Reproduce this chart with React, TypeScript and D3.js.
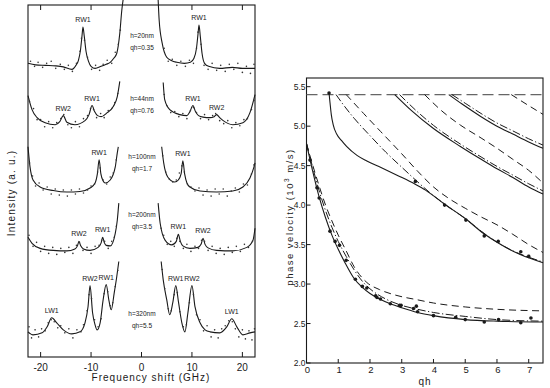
import * as d3 from "d3"

type Pt = [number, number]

// ---- left panel: Brillouin spectra ----
const freqTicks = [-20, -10, 0, 10, 20]
const thickness = ["h=20nm", "h=44nm", "h=100nm", "h=200nm", "h=320nm"]
const qhLabels = ["qh=0.35", "qh=0.76", "qh=1.7", "qh=3.5", "qh=5.5"]
const baselines = [28.9, 23.1, 16.4, 10.6, 2.2]

const fitL20: Pt[] = [[-22.5, 0.3], [-21, 0.15], [-19, 0.1], [-17, 0.05], [-15.5, -0.05], [-13.8, -0.3], [-13, 0.1], [-12.5, 0.6], [-12.1, 1.6], [-11.8, 3.0], [-11.6, 3.9], [-11.35, 3.0], [-11.0, 1.5], [-10.5, 0.5], [-10, 0.0], [-9.2, -0.2], [-8, 0.0], [-7, 0.2], [-6.2, 0.4], [-5.5, 0.8], [-4.9, 1.3], [-4.3, 3.3], [-3.9, 5.6], [-3.65, 6.6]]
const fitR20: Pt[] = [[3.3, 6.6], [3.5, 4.6], [4.1, 2.3], [5.0, 0.9], [6.0, 0.55], [7.0, 0.4], [8.5, 0.3], [9.7, 0.4], [10.4, 0.8], [10.9, 1.8], [11.2, 3.2], [11.4, 4.1], [11.65, 3.0], [12.0, 1.3], [12.5, 0.3], [13.3, 0.0], [15.5, -0.2], [18, -0.1], [20, -0.2], [22.5, -0.2]]
const fitL44: Pt[] = [[-22.5, 2.9], [-21.7, 1.5], [-20.7, 0.7], [-19.1, 0.2], [-17.1, 0.0], [-16.2, 0.3], [-15.5, 0.9], [-14.8, 0.25], [-13.2, 0.0], [-11.2, 0.4], [-10.4, 1.0], [-9.8, 1.9], [-9.3, 1.3], [-8.7, 0.9], [-8.0, 0.8], [-6.8, 1.2], [-5.6, 1.8], [-4.8, 2.8], [-4.3, 4.3]]
const fitR44: Pt[] = [[4.3, 4.2], [4.6, 2.5], [5.6, 1.5], [7.6, 1.0], [9.0, 0.9], [9.6, 1.3], [10.2, 1.9], [10.7, 1.3], [11.3, 0.9], [12.2, 0.75], [13.6, 0.7], [14.4, 0.8], [14.9, 1.0], [15.5, 0.7], [16.2, 0.4], [18.1, 0.0], [20.1, 0.2], [21.5, 1.2], [22.5, 3.0]]
const fitL100: Pt[] = [[-22.5, 4.5], [-22.1, 2.5], [-21.5, 1.2], [-20.1, 0.5], [-17.5, 0.15], [-14.8, 0.0], [-12.2, 0.05], [-10.2, 0.4], [-9.2, 0.9], [-8.75, 1.8], [-8.4, 3.2], [-8.05, 1.8], [-7.6, 1.1], [-7.2, 0.9], [-6.2, 1.2], [-5.2, 2.5], [-4.8, 3.9], [-4.6, 4.5]]
const fitR100: Pt[] = [[4.0, 4.5], [4.4, 2.9], [5.2, 1.5], [6.6, 1.0], [7.3, 1.2], [7.85, 1.8], [8.2, 3.1], [8.55, 1.8], [9.0, 0.9], [9.6, 0.5], [11.6, 0.1], [14.9, 0.0], [18.1, 0.1], [20.1, 0.5], [21.5, 1.4], [22.3, 2.5], [22.5, 2.9]]
const fitL200: Pt[] = [[-22.5, 1.3], [-21.7, 0.7], [-20.1, 0.2], [-17.5, 0.0], [-14.8, -0.05], [-13.2, 0.15], [-12.7, 0.45], [-12.4, 0.9], [-12.05, 0.45], [-11.5, 0.15], [-10.2, 0.0], [-8.6, 0.3], [-8.0, 0.75], [-7.7, 1.3], [-7.35, 0.75], [-7.0, 0.5], [-6.2, 0.45], [-5.2, 1.7], [-4.8, 3.0], [-4.5, 4.7]]
const fitR200: Pt[] = [[3.3, 4.7], [3.7, 2.7], [4.7, 1.0], [6.0, 0.55], [6.9, 0.9], [7.3, 1.6], [7.7, 0.9], [8.2, 0.45], [9.6, 0.2], [11.2, 0.3], [11.8, 0.6], [12.2, 1.2], [12.6, 0.6], [13.2, 0.25], [14.9, 0.0], [18.1, -0.05], [20.9, 0.3], [22.1, 1.0], [22.5, 2.2]]
const fitL320: Pt[] = [[-22.5, 0.3], [-21.5, 0.0], [-19.7, 0.2], [-18.7, 0.8], [-17.8, 1.7], [-16.8, 1.2], [-15.5, 0.5], [-13.8, 0.1], [-12.2, 0.3], [-11.2, 1.2], [-10.6, 2.8], [-10.2, 4.9], [-9.7, 2.2], [-9.2, 1.0], [-8.8, 0.5], [-8.2, 1.2], [-7.6, 3.5], [-7.0, 5.0], [-6.45, 3.4], [-6.0, 2.5], [-5.4, 4.2], [-4.9, 5.8], [-4.5, 7.3]]
const fitR320: Pt[] = [[3.9, 7.3], [4.3, 5.5], [5.0, 3.5], [5.6, 2.0], [6.2, 3.2], [6.8, 4.9], [7.35, 3.2], [8.0, 1.2], [8.6, 0.3], [9.2, 2.2], [10.0, 4.9], [10.6, 2.8], [11.6, 1.2], [12.6, 0.5], [13.6, 0.3], [15.5, 0.2], [16.9, 0.8], [17.9, 1.6], [18.9, 0.8], [20.1, 0.0], [21.5, 0.2], [22.5, 0.3]]

const dots20: Pt[] = [[-22, 0.5], [-21.2, 0.0], [-20.5, 0.4], [-19.6, -0.1], [-18.8, 0.3], [-17.9, 0.5], [-17, -0.2], [-16.1, 0.2], [-15.3, -0.3], [-14.5, 0.1], [-13.7, -0.5], [-12.9, 0.3], [-12.2, 1.5], [-11.9, 2.8], [-11.3, 2.6], [-10.7, 0.9], [-9.9, -0.3], [-9.1, 0.1], [-8.3, -0.4], [-7.6, 0.2], [-6.8, 0.6], [-5.9, 0.3], [-5.2, 1.4], [-4.6, 2.2], [-4.2, 3.6],
  [4.5, 1.8], [5.3, 0.5], [6.1, 0.7], [7.0, 0.1], [7.8, 0.5], [8.7, 0.0], [9.5, 0.6], [10.3, 0.3], [10.9, 1.8], [11.2, 3.4], [11.8, 2.2], [12.4, 0.1], [13.2, -0.3], [14.0, 0.3], [14.9, -0.4], [15.7, 0.1], [16.6, -0.5], [17.4, 0.2], [18.3, -0.3], [19.1, 0.3], [20.0, -0.6], [20.8, 0.0], [21.6, -0.7], [22.3, 0.2]]
const dots44: Pt[] = [[-22.2, 2.3], [-21.4, 1.6], [-20.7, 0.5], [-20, 0.5], [-19.2, -0.2], [-18.4, 0.3], [-17.6, -0.3], [-16.8, 0.2], [-16, 0.6], [-15.4, 1.0], [-14.6, 0.0], [-13.9, -0.3], [-13.1, 0.3], [-12.3, -0.2], [-11.5, 0.6], [-10.7, 0.9], [-10.1, 1.6], [-9.5, 1.5], [-8.9, 0.7], [-8.1, 1.1], [-7.4, 0.7], [-6.6, 1.4], [-5.9, 1.6], [-5.3, 2.2], [-4.7, 3.1],
  [4.5, 3.0], [5.0, 1.9], [5.8, 1.2], [6.6, 1.3], [7.4, 0.8], [8.2, 1.1], [9.0, 0.6], [9.7, 1.4], [10.3, 1.7], [10.9, 1.2], [11.7, 0.6], [12.5, 1.0], [13.3, 0.5], [14.1, 0.9], [14.7, 1.1], [15.5, 0.4], [16.3, 0.1], [17.1, 0.4], [17.9, -0.3], [18.7, 0.2], [19.5, -0.1], [20.3, 0.5], [21.0, 0.6], [21.8, 1.5], [22.3, 2.4]]
const dots100: Pt[] = [[-22.2, 2.9], [-21.6, 1.6], [-21, 0.6], [-20.3, 0.9], [-19.5, 0.2], [-18.7, 0.5], [-17.9, -0.2], [-17.1, 0.3], [-16.3, -0.3], [-15.5, 0.2], [-14.7, -0.4], [-13.9, 0.2], [-13.1, -0.2], [-12.3, 0.3], [-11.5, -0.1], [-10.7, 0.2], [-10.0, 0.6], [-9.3, 0.8], [-8.7, 2.0], [-8.2, 2.4], [-7.6, 1.2], [-6.9, 0.8], [-6.2, 1.5], [-5.6, 1.9], [-5.0, 3.2],
  [4.2, 3.6], [4.8, 2.0], [5.5, 1.3], [6.2, 1.0], [6.9, 1.2], [7.5, 1.9], [8.0, 2.6], [8.5, 2.0], [9.1, 0.8], [9.8, 0.5], [10.6, 0.1], [11.4, 0.4], [12.2, -0.3], [13.0, 0.2], [13.8, -0.4], [14.6, 0.3], [15.4, -0.2], [16.2, 0.3], [17.0, -0.4], [17.8, 0.1], [18.6, 0.4], [19.4, 0.0], [20.2, 0.8], [21.0, 0.7], [21.8, 1.8], [22.3, 2.7]]
const dots200: Pt[] = [[-22.3, 1.5], [-21.5, 0.4], [-20.8, 0.8], [-20, -0.1], [-19.2, 0.4], [-18.4, -0.3], [-17.6, 0.3], [-16.8, -0.4], [-16, 0.2], [-15.2, -0.2], [-14.4, 0.3], [-13.6, -0.3], [-12.9, 0.5], [-12.3, 0.8], [-11.6, 0.0], [-10.8, 0.3], [-10, -0.3], [-9.2, 0.4], [-8.4, 0.5], [-7.9, 1.0], [-7.3, 0.9], [-6.6, 0.2], [-5.9, 0.9], [-5.4, 1.3], [-5.0, 2.4],
  [3.9, 2.2], [4.4, 1.5], [5.1, 0.6], [5.8, 0.9], [6.5, 0.4], [7.0, 1.2], [7.6, 0.9], [8.3, 0.2], [9.0, 0.6], [9.8, -0.1], [10.6, 0.4], [11.3, 0.2], [11.9, 1.0], [12.5, 0.9], [13.2, 0.0], [14, 0.4], [14.8, -0.3], [15.6, 0.2], [16.4, -0.4], [17.2, 0.3], [18.0, -0.2], [18.8, 0.4], [19.6, -0.1], [20.4, 0.6], [21.2, 0.3], [22.0, 0.9]]
const dots320: Pt[] = [[-22.3, 0.8], [-21.8, -0.3], [-21.1, 0.5], [-20.4, -0.2], [-19.8, 0.6], [-19.1, 0.4], [-18.5, 1.2], [-17.9, 1.5], [-17.3, 1.3], [-16.6, 0.7], [-16, 0.9], [-15.2, 0.2], [-14.4, 0.6], [-13.6, -0.3], [-12.8, 0.5], [-12.0, 0.3], [-11.5, 1.0], [-10.8, 2.4], [-10.4, 4.0], [-9.9, 3.6], [-9.3, 1.5], [-8.6, 0.8], [-8.0, 1.6], [-7.4, 4.1], [-6.7, 4.3], [-6.2, 2.9], [-5.7, 3.2], [-5.2, 4.8], [-4.7, 6.4],
  [4.1, 6.5], [4.6, 4.6], [5.3, 2.6], [5.9, 2.4], [6.5, 4.0], [7.1, 4.2], [7.6, 2.3], [8.3, 0.8], [8.9, 1.0], [9.5, 3.2], [10.3, 4.0], [10.9, 2.0], [11.6, 1.5], [12.3, 0.4], [13.0, 0.9], [13.8, -0.2], [14.5, 0.5], [15.2, -0.3], [15.9, 0.6], [16.6, 0.9], [17.3, 1.4], [18.0, 1.3], [18.6, 0.6], [19.3, -0.2], [20.0, 0.5], [20.6, -0.4], [21.3, 0.4], [21.9, -0.5], [22.4, 0.6]]

const peaks20: [string, number][] = [["RW1", -11.6], ["RW1", 11.4]]
const peaks44: [string, number][] = [["RW2", -15.5], ["RW1", -9.8], ["RW1", 10.2], ["RW2", 14.9]]
const peaks100: [string, number][] = [["RW1", -8.4], ["RW1", 8.2]]
const peaks200: [string, number][] = [["RW2", -12.4], ["RW1", -7.7], ["RW1", 7.3], ["RW2", 12.2]]
const peaks320: [string, number][] = [["LW1", -17.8], ["RW2", -10.2], ["RW1", -7.0], ["RW1", 6.8], ["RW2", 10.0], ["LW1", 17.9]]

const fitsLeft = [fitL20, fitL44, fitL100, fitL200, fitL320]
const fitsRight = [fitR20, fitR44, fitR100, fitR200, fitR320]
const dotSets = [dots20, dots44, dots100, dots200, dots320]
const peakSets = [peaks20, peaks44, peaks100, peaks200, peaks320]

// ---- right panel: dispersion ----
const qhTicks = [0, 1, 2, 3, 4, 5, 6, 7]
const velTicks = [2.0, 2.5, 3.0, 3.5, 4.0, 4.5, 5.0, 5.5]
const cutoff = 5.4

const rw1Solid: Pt[] = [[0, 4.78], [0.2, 4.42], [0.4, 4.1], [0.6, 3.84], [0.8, 3.62], [1.0, 3.44], [1.2, 3.28], [1.5, 3.07], [1.75, 2.96], [2.0, 2.88], [2.3, 2.81], [2.64, 2.75], [3.0, 2.7], [3.5, 2.64], [4.0, 2.6], [5.0, 2.55], [6.0, 2.53], [7.45, 2.52]]
const rw1DashDot: Pt[] = [[0, 4.78], [0.2, 4.47], [0.4, 4.18], [0.6, 3.93], [0.8, 3.72], [1.0, 3.54], [1.25, 3.35], [1.5, 3.18], [1.75, 3.04], [2.0, 2.94], [2.5, 2.81], [3.0, 2.73], [3.5, 2.68], [4.0, 2.64], [5.0, 2.59], [6.0, 2.55], [7.45, 2.53]]
const rw1Dashed: Pt[] = [[0, 4.78], [0.2, 4.5], [0.4, 4.24], [0.6, 4.0], [0.8, 3.8], [1.0, 3.62], [1.25, 3.42], [1.5, 3.22], [1.9, 3.02], [2.3, 2.93], [2.8, 2.86], [3.5, 2.8], [4.0, 2.76], [5.0, 2.71], [6.0, 2.68], [7.45, 2.66]]
const rw2Solid: Pt[] = [[0.71, 5.42], [0.74, 5.3], [0.78, 5.15], [0.84, 5.02], [0.95, 4.9], [1.1, 4.82], [1.27, 4.74], [1.59, 4.63], [1.9, 4.56], [2.33, 4.48], [2.9, 4.37], [3.4, 4.27], [3.75, 4.19], [4.32, 4.02], [5.0, 3.83], [5.58, 3.64], [6.12, 3.5], [6.75, 3.37], [7.45, 3.27]]
const rw2DashDot: Pt[] = [[0.93, 5.4], [1.2, 5.25], [1.5, 5.1], [2.0, 4.88], [2.5, 4.67], [3.0, 4.48], [3.43, 4.32], [4.0, 4.12], [4.5, 3.97], [5.0, 3.83], [5.5, 3.67], [6.0, 3.53], [6.5, 3.42], [7.0, 3.34], [7.45, 3.28]]
const rw2Dashed: Pt[] = [[1.25, 5.4], [1.8, 5.16], [2.34, 4.93], [3.0, 4.65], [3.5, 4.43], [4.0, 4.23], [4.5, 4.08], [5.0, 3.96], [5.5, 3.85], [6.0, 3.75], [6.5, 3.63], [7.0, 3.5], [7.45, 3.4]]
const rw3Solid: Pt[] = [[2.78, 5.4], [3.3, 5.2], [4.0, 4.97], [4.86, 4.74], [5.5, 4.58], [6.0, 4.46], [6.5, 4.35], [7.0, 4.23], [7.45, 4.14]]
const rw3DashDot: Pt[] = [[2.93, 5.4], [3.5, 5.18], [4.0, 5.01], [4.86, 4.77], [5.5, 4.61], [6.0, 4.49], [6.5, 4.38], [7.0, 4.27], [7.45, 4.18]]
const rw3Dashed: Pt[] = [[3.72, 5.4], [4.3, 5.18], [4.86, 5.01], [5.5, 4.85], [6.0, 4.72], [6.5, 4.58], [7.0, 4.44], [7.45, 4.28]]
const rw4Solid: Pt[] = [[4.48, 5.4], [4.9, 5.28], [5.5, 5.12], [6.0, 5.0], [6.5, 4.9], [7.0, 4.8], [7.45, 4.72]]
const rw4DashDot: Pt[] = [[4.58, 5.4], [5.0, 5.29], [5.5, 5.16], [6.0, 5.04], [6.5, 4.94], [7.0, 4.84], [7.45, 4.76]]
const rw4Dashed: Pt[] = [[6.45, 5.4], [7.0, 5.26], [7.45, 5.15]]

const rw1Measured: Pt[] = [[0.11, 4.57], [0.33, 4.22], [0.4, 4.09], [0.74, 3.67], [0.9, 3.54], [1.04, 3.49], [1.25, 3.3], [1.54, 3.06], [1.76, 2.97], [1.9, 2.95], [2.18, 2.85], [2.22, 2.83], [2.33, 2.81], [2.64, 2.75], [2.93, 2.73], [2.98, 2.73], [3.37, 2.69], [3.46, 2.72], [3.5, 2.65], [4.0, 2.6], [4.7, 2.58], [5.0, 2.55], [5.6, 2.52], [6.05, 2.55], [6.75, 2.51], [7.07, 2.57]]
const rw2Measured: Pt[] = [[0.71, 5.42], [3.43, 4.3], [4.35, 4.0], [5.02, 3.81], [5.6, 3.61], [6.04, 3.54], [6.75, 3.41], [7.0, 3.35]]

const solidCurves = [rw1Solid, rw2Solid, rw3Solid, rw4Solid]
const dashDotCurves = [rw1DashDot, rw2DashDot, rw3DashDot, rw4DashDot]
const dashedCurves = [rw1Dashed, rw2Dashed, rw3Dashed, rw4Dashed]

const FONT = "'Liberation Sans', Arial, sans-serif"
const INK = "#1a1a1a"

export default function App() {
  // left panel scales
  const xL = d3.scaleLinear().domain([-22.5, 22.5]).range([28, 255])
  const yL = d3.scaleLinear().domain([0, 35]).range([357, 5])
  // right panel scales
  const xR = d3.scaleLinear().domain([0, 7.45]).range([306.5, 543])
  const yR = d3.scaleLinear().domain([2.0, 5.61]).range([363, 78])

  const annotY = [36, 99, 157, 215, 314]

  const specLine = (base: number) =>
    d3
      .line<Pt>()
      .x((d) => xL(d[0]))
      .y((d) => yL(base + d[1]))
      .curve(d3.curveMonotoneX)

  const dispLine = d3
    .line<Pt>()
    .x((d) => xR(d[0]))
    .y((d) => yR(d[1]))
    .curve(d3.curveMonotoneX)

  const peakTop = (fits: Pt[], f: number) => {
    const p = fits.reduce((a, b) => (Math.abs(b[0] - f) < Math.abs(a[0] - f) ? b : a))
    return p[1]
  }

  return (
    <svg width={550} height={388} style={{position: "absolute", left: 0, top: 0, background: "#fff"}} fontFamily={FONT}>
      <rect width={550} height={388} fill="#fff" />

      {/* ---------- left panel ---------- */}
      <g>
        <rect x={28} y={5} width={227} height={352} fill="none" stroke={INK} strokeWidth={1.1} />
        {freqTicks.map((t) => (
          <g key={t}>
            <line x1={xL(t)} x2={xL(t)} y1={357} y2={352} stroke={INK} />
            {t !== 0 && <line x1={xL(t)} x2={xL(t)} y1={5} y2={10} stroke={INK} />}
            <text x={xL(t)} y={371} fontSize={10} textAnchor="middle" fill={INK}>
              {t < 0 ? "-" + Math.abs(t) : t}
            </text>
          </g>
        ))}
        <text x={151} y={381} fontSize={10} textAnchor="middle" letterSpacing={1} fill={INK}>
          Frequency  shift  (GHz)
        </text>
        <text transform="translate(15,193) rotate(-90)" fontSize={10} textAnchor="middle" letterSpacing={1.2} fill={INK}>
          Intensity    (a. u.)
        </text>

        {baselines.map((b, i) => (
          <g key={i}>
            <path d={specLine(b)(fitsLeft[i]) || ""} fill="none" stroke={INK} strokeWidth={1.1} />
            <path d={specLine(b)(fitsRight[i]) || ""} fill="none" stroke={INK} strokeWidth={1.1} />
            {dotSets[i].map((d, j) => (
              <circle key={j} cx={xL(d[0])} cy={yL(b + d[1])} r={0.8} fill="#333" />
            ))}
            {peakSets[i].map(([name, f], j) => {
              const fits = f < 0 ? fitsLeft[i] : fitsRight[i]
              return (
                <text key={j} x={xL(f)} y={yL(b + peakTop(fits, f)) - 5} fontSize={7} textAnchor="middle" fill={INK}>
                  {name}
                </text>
              )
            })}
            <text x={142} y={annotY[i] + 2} fontSize={6.5} textAnchor="middle" fill={INK}>
              {thickness[i]}
            </text>
            <text x={142} y={annotY[i] + 14} fontSize={6.5} textAnchor="middle" fill={INK}>
              {qhLabels[i]}
            </text>
          </g>
        ))}
      </g>

      {/* ---------- right panel ---------- */}
      <g>
        <rect x={306.5} y={78} width={236.5} height={285} fill="none" stroke={INK} strokeWidth={1.1} />
        {velTicks.map((t) => (
          <g key={t}>
            <line x1={306.5} x2={310.5} y1={yR(t)} y2={yR(t)} stroke={INK} />
            <text x={305.5} y={yR(t) + 3} fontSize={8.5} textAnchor="end" fill={INK}>
              {t.toFixed(1)}
            </text>
          </g>
        ))}
        {qhTicks.map((t) => (
          <g key={t}>
            <line x1={xR(t)} x2={xR(t)} y1={363} y2={359} stroke={INK} />
            <text x={xR(t) + 1} y={373} fontSize={9.5} textAnchor="middle" fill={INK}>
              {t}
            </text>
          </g>
        ))}
        <text x={425} y={385} fontSize={10} textAnchor="middle" letterSpacing={1} fill={INK}>
          qh
        </text>
        <text transform="translate(292.5,217) rotate(-90)" fontSize={9.5} textAnchor="middle" letterSpacing={1.5} fill={INK}>
          phase  velocity  (10<tspan fontSize={6.5} dy={-4}>3</tspan>
          <tspan dy={4}> m/s)</tspan>
        </text>

        <line x1={xR(0)} x2={xR(7.45)} y1={yR(cutoff)} y2={yR(cutoff)} stroke="#666" strokeWidth={1.2} strokeDasharray="11,5" />

        {dashedCurves.map((c, i) => (
          <path key={"d" + i} d={dispLine(c) || ""} fill="none" stroke={INK} strokeWidth={1} strokeDasharray="7,4.5" />
        ))}
        {dashDotCurves.map((c, i) => (
          <path key={"dd" + i} d={dispLine(c) || ""} fill="none" stroke={INK} strokeWidth={1} strokeDasharray="8,2.5,1.2,2.5" />
        ))}
        {solidCurves.map((c, i) => (
          <path key={"s" + i} d={dispLine(c) || ""} fill="none" stroke={INK} strokeWidth={1.1} />
        ))}
        {[...rw1Measured, ...rw2Measured].map((d, i) => (
          <circle key={i} cx={xR(d[0])} cy={yR(d[1])} r={1.8} fill={INK} />
        ))}
      </g>
    </svg>
  )
}
